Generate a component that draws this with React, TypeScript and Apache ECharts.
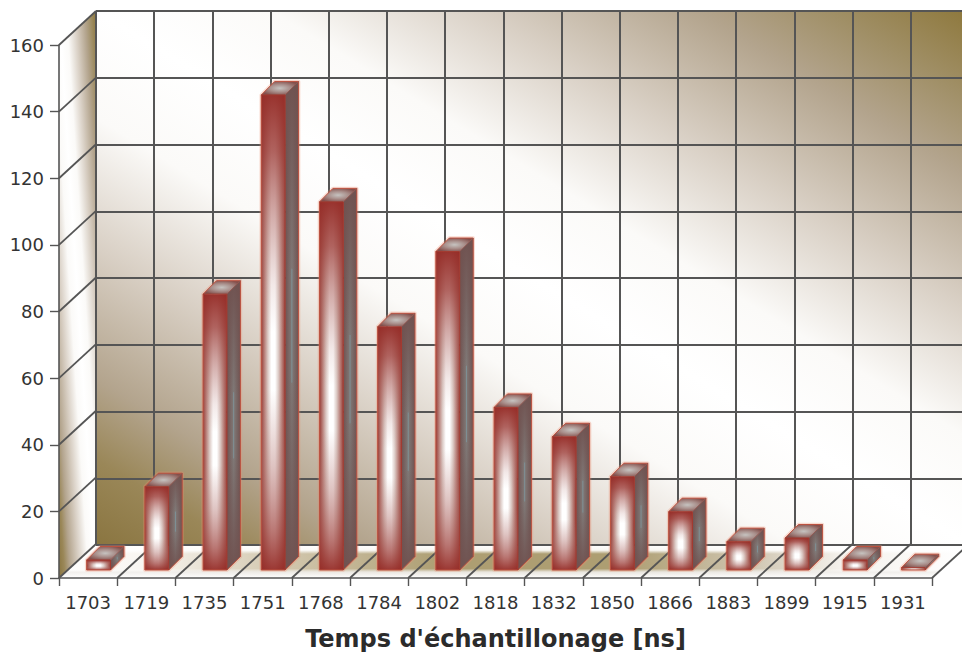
import React, { useEffect, useRef } from "react";
import * as echarts from "echarts";

const categories = ["1703","1719","1735","1751","1768","1784","1802","1818","1832","1850","1866","1883","1899","1915","1931"];
const counts = [3, 25, 82.8, 142.6, 110.5, 73, 95.6, 48.8, 40, 28, 17.5, 8.5, 9.6, 3, 0.7];
const yMax = 160;
const yStep = 20;
const axisTitle = "Temps d'échantillonage [ns]";

const FRONT = { left: 59, top: 45, width: 873, height: 533 };
const BACK = { left: 96, top: 11, width: 873, height: 534 };
const DX = BACK.left - FRONT.left;
const DY = FRONT.top - BACK.top;
const LINE = "#555555";

const wallStops = [
  { offset: 0, color: "#8e783c" },
  { offset: 0.08, color: "#a08f66" },
  { offset: 0.155, color: "#b3a48d" },
  { offset: 0.28, color: "#d9d0c5" },
  { offset: 0.4, color: "#fbfaf8" },
  { offset: 0.5, color: "#ffffff" },
  { offset: 0.6, color: "#fbfaf8" },
  { offset: 0.72, color: "#d9d0c5" },
  { offset: 0.845, color: "#b3a48d" },
  { offset: 0.92, color: "#9a8758" },
  { offset: 1, color: "#8a7540" },
];
const wallFill = { type: "linear", x: 1, y: 0, x2: 0, y2: 1, colorStops: wallStops };

function grad(x: number, y: number, x2: number, y2: number, stops: any) {
  return { type: "linear", x, y, x2, y2, colorStops: stops };
}

const frontAcross = grad(0, 0, 1, 0, [
  { offset: 0, color: "#973c36" },
  { offset: 0.1, color: "#b06f68" },
  { offset: 0.28, color: "#dccbc6" },
  { offset: 0.42, color: "#ffffff" },
  { offset: 0.58, color: "#ffffff" },
  { offset: 0.72, color: "#dccbc6" },
  { offset: 0.9, color: "#b06f68" },
  { offset: 1, color: "#973c36" },
]);
const frontAlong = grad(0, 0, 0, 1, [
  { offset: 0, color: "rgba(150,45,40,0.97)" },
  { offset: 0.12, color: "rgba(156,60,55,0.8)" },
  { offset: 0.25, color: "rgba(165,85,80,0.5)" },
  { offset: 0.4, color: "rgba(172,105,100,0.15)" },
  { offset: 0.5, color: "rgba(175,110,105,0)" },
  { offset: 0.62, color: "rgba(175,110,105,0)" },
  { offset: 0.78, color: "rgba(170,100,95,0.38)" },
  { offset: 0.92, color: "rgba(158,65,60,0.72)" },
  { offset: 1, color: "rgba(150,45,40,0.95)" },
]);
const sideAcross = grad(0, 0, 1, 0, [
  { offset: 0, color: "#705250" },
  { offset: 0.5, color: "#807a78" },
  { offset: 1, color: "#705250" },
]);
const sideAlong = grad(0, 0, 0, 1, [
  { offset: 0, color: "rgba(112,82,80,1)" },
  { offset: 0.4, color: "rgba(112,82,80,0)" },
  { offset: 0.6, color: "rgba(112,82,80,0)" },
  { offset: 1, color: "rgba(112,82,80,1)" },
]);
const topFill = {
  type: "radial", x: 0.5, y: 0.5, r: 0.55,
  colorStops: [
    { offset: 0, color: "#c6c3c0" },
    { offset: 0.5, color: "#a98f8b" },
    { offset: 1, color: "#84504c" },
  ],
};

function renderBar(_p: any, api: any) {
  const i = api.value(0);
  const base = api.coord([i, 0]);
  const top = api.coord([i, api.value(1)]);
  const band = api.size([1, 0])[0];
  const w = band * 0.41;
  const d = 13.5;
  const x = base[0] + band * 0.18 - w / 2;
  const y1 = base[1] - 8;
  const y0 = top[1] - 8;
  const tl = [x, y0], tr = [x + w, y0], br = [x + w, y1], bl = [x, y1];
  const btl = [x + d, y0 - d], btr = [x + w + d, y0 - d], bbr = [x + w + d, y1 - d];
  const sideX = x + w + d / 2;
  const sideY = (y0 + y1 - d) / 2;
  const mark = (y1 - y0) * 0.12;
  const outline = [bl, tl, btl, btr, bbr, br];
  return {
    type: "group",
    children: [
      {
        type: "polygon",
        shape: { points: outline },
        style: { fill: "none", stroke: "rgba(240,140,110,0.3)", lineWidth: 3.5, lineJoin: "round" },
      },
      { type: "polygon", shape: { points: [tr, btr, bbr, br] }, style: { fill: sideAcross } },
      { type: "polygon", shape: { points: [tr, btr, bbr, br] }, style: { fill: sideAlong } },
      { type: "polygon", shape: { points: [tl, btl, btr, tr] }, style: { fill: topFill } },
      { type: "rect", shape: { x, y: y0, width: w, height: y1 - y0 }, style: { fill: frontAcross } },
      { type: "rect", shape: { x, y: y0, width: w, height: y1 - y0 }, style: { fill: frontAlong } },
      {
        type: "line",
        shape: { x1: sideX, y1: sideY - mark, x2: sideX, y2: sideY + mark },
        style: { stroke: "rgba(125,180,195,0.4)", lineWidth: 1 },
      },
      {
        type: "polygon",
        shape: { points: outline },
        style: { fill: "none", stroke: "#bc5240", lineWidth: 1 },
      },
      {
        type: "polyline",
        shape: { points: [tl, tr, br] },
        style: { fill: "none", stroke: "#a23a30", lineWidth: 1 },
      },
      {
        type: "line",
        shape: { x1: tr[0], y1: tr[1], x2: btr[0], y2: btr[1] },
        style: { stroke: "#8f5650", lineWidth: 1 },
      },
    ],
  };
}

function chrome() {
  const band = FRONT.width / categories.length;
  const bottom = FRONT.top + FRONT.height;
  const floorPts = [[FRONT.left, bottom], [BACK.left, BACK.top + BACK.height], [BACK.left + BACK.width, BACK.top + BACK.height], [FRONT.left + FRONT.width, bottom]];
  const els: any[] = [
    {
      type: "rect", z: -10,
      shape: { x: BACK.left, y: BACK.top, width: BACK.width, height: BACK.height },
      style: { fill: wallFill },
    },
    {
      type: "polygon", z: -10,
      shape: { points: [[FRONT.left, FRONT.top], [BACK.left, BACK.top], [BACK.left, BACK.top + BACK.height], [FRONT.left, bottom]] },
      style: { fill: wallFill },
    },
    {
      type: "polygon", z: -10,
      shape: { points: floorPts },
      style: {
        fill: grad(0, 0, 1, 0, [
          { offset: 0, color: "#ffffff" },
          { offset: 0.1, color: "#f8f5f0" },
          { offset: 0.22, color: "#d8ceb8" },
          { offset: 0.42, color: "#ad9e72" },
          { offset: 0.62, color: "#ad9e72" },
          { offset: 0.76, color: "#cfc5b0" },
          { offset: 0.86, color: "#f4f1ec" },
          { offset: 1, color: "#ffffff" },
        ]),
      },
    },
    {
      type: "polygon", z: -9,
      shape: { points: floorPts },
      style: {
        fill: grad(0, 0, 0, 1, [
          { offset: 0, color: "rgba(255,255,255,1)" },
          { offset: 0.16, color: "rgba(255,255,255,0.9)" },
          { offset: 0.27, color: "rgba(255,255,255,0)" },
          { offset: 0.72, color: "rgba(255,255,255,0)" },
          { offset: 0.82, color: "rgba(240,238,235,0.9)" },
          { offset: 1, color: "rgba(255,255,255,1)" },
        ]),
      },
    },
  ];
  for (let i = 0; i <= categories.length; i++) {
    const x = FRONT.left + band * i;
    els.push({
      type: "line", z: -5,
      shape: { x1: x, y1: bottom, x2: x + DX, y2: bottom - DY },
      style: { stroke: LINE, lineWidth: 1.8 },
    });
  }
  for (let v = yStep; v <= yMax; v += yStep) {
    const y = bottom - (FRONT.height * v) / yMax;
    els.push({
      type: "line", z: -5,
      shape: { x1: FRONT.left, y1: y, x2: FRONT.left + DX, y2: y - DY },
      style: { stroke: LINE, lineWidth: 1.8 },
    });
  }
  return els;
}

export default function App() {
  const ref = useRef<HTMLDivElement>(null);
  useEffect(() => {
    document.body.style.margin = "0";
    const chart = echarts.init(ref.current!, undefined, { renderer: "svg" });
    const labelFont = { fontFamily: "DejaVu Sans", fontSize: 18, color: "#333333" };
    chart.setOption({
      animation: false,
      backgroundColor: "#ffffff",
      graphic: chrome(),
      grid: [
        { ...FRONT, containLabel: false, outerBoundsMode: "none" },
        { ...BACK, containLabel: false, outerBoundsMode: "none" },
      ],
      xAxis: [
        {
          type: "category",
          gridIndex: 0,
          data: categories,
          axisLine: { lineStyle: { color: LINE, width: 1.6 } },
          axisTick: { show: true, length: 8, interval: 0, lineStyle: { color: LINE, width: 1.4 } },
          axisLabel: { ...labelFont, interval: 0, margin: 15 },
          splitLine: { show: false },
          name: axisTitle,
          nameLocation: "middle",
          nameGap: 49,
          nameTextStyle: { fontFamily: "DejaVu Sans", fontSize: 24, fontWeight: "bold", color: "#2b2b2b" },
        },
        {
          type: "category",
          gridIndex: 1,
          data: categories,
          axisLine: { show: false },
          axisTick: { show: false },
          axisLabel: { show: false },
          splitLine: { show: true, interval: 0, lineStyle: { color: LINE, width: 2 } },
        },
      ],
      yAxis: [
        {
          type: "value",
          gridIndex: 0,
          min: 0,
          max: yMax,
          interval: yStep,
          axisLine: { show: true, lineStyle: { color: LINE, width: 1.6 } },
          axisTick: { show: true, length: 9, lineStyle: { color: LINE, width: 1.4 } },
          axisLabel: { ...labelFont, margin: 15 },
          splitLine: { show: false },
        },
        {
          type: "value",
          gridIndex: 1,
          min: 0,
          max: yMax,
          interval: yStep,
          axisLine: { show: false },
          axisTick: { show: false },
          axisLabel: { show: false },
          splitLine: { show: true, lineStyle: { color: LINE, width: 2 } },
        },
      ],
      series: [
        {
          type: "custom",
          xAxisIndex: 0,
          yAxisIndex: 0,
          clip: false,
          encode: { x: 0, y: 1 },
          data: counts.map((v, i) => [i, v]),
          renderItem: renderBar,
        },
      ],
    });
    return () => chart.dispose();
  }, []);
  return <div ref={ref} style={{ width: 962, height: 652 }} />;
}
